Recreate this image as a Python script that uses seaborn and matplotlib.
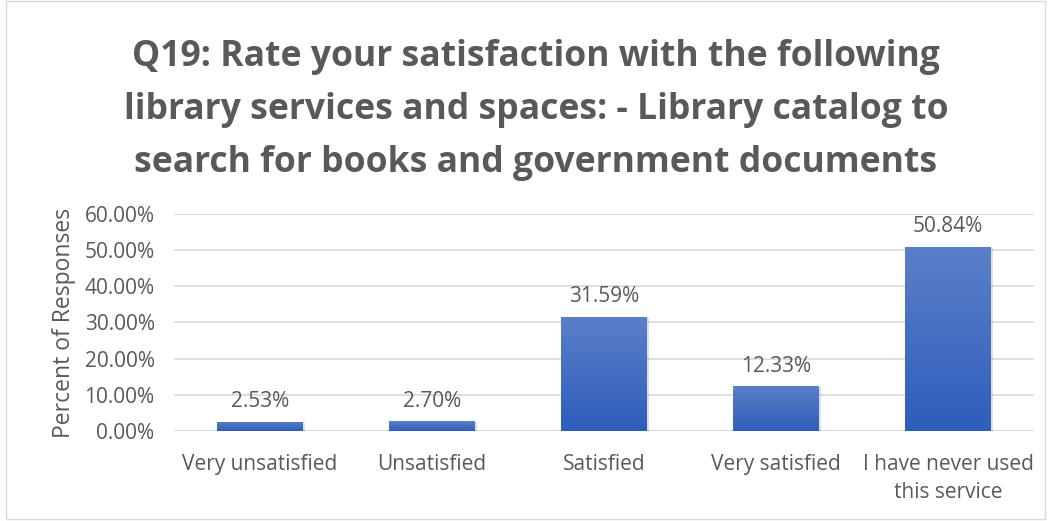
import numpy as np
import pandas as pd
import matplotlib
matplotlib.use("Agg")
import matplotlib.pyplot as plt
from matplotlib.colors import LinearSegmentedColormap
from matplotlib.patches import Rectangle
import seaborn as sns

categories = ["Very unsatisfied", "Unsatisfied", "Satisfied", "Very satisfied",
              "I have never used\nthis service"]
values = [2.53, 2.70, 31.59, 12.33, 50.84]
value_labels = ["2.53%", "2.70%", "31.59%", "12.33%", "50.84%"]
y_ticks = [0, 10, 20, 30, 40, 50, 60]
y_tick_labels = ["0.00%", "10.00%", "20.00%", "30.00%", "40.00%", "50.00%", "60.00%"]
title = ("Q19: Rate your satisfaction with the following\n"
         "library services and spaces: - Library catalog to\n"
         "search for books and government documents")

sns.set_theme(style="white")
plt.rcParams["font.family"] = ["Open Sans", "DejaVu Sans"]

text_color = "#595959"
grid_color = "#d9d9d9"

df = pd.DataFrame({"category": categories, "value": values})

fig = plt.figure(figsize=(10.49, 5.21), dpi=100)
ax = fig.add_axes([0.1659, 0.1727, 0.8198, 0.4166])

sns.barplot(data=df, x="category", y="value", ax=ax, width=0.5,
            color="#4472c4", saturation=1, edgecolor="none")

ax.set_ylim(0, 60)
ax.set_xlim(-0.5, len(categories) - 0.5)
ax.set_yticks(y_ticks)
ax.set_yticklabels(y_tick_labels)
ax.yaxis.grid(True, color=grid_color, linewidth=1.2)
ax.set_axisbelow(True)
for s in ax.spines.values():
    s.set_visible(False)
ax.axhline(0, color=grid_color, linewidth=1.2, zorder=1)

ax.tick_params(axis="both", length=0, labelsize=15, labelcolor=text_color)
ax.tick_params(axis="x", pad=16.5)
ax.tick_params(axis="y", pad=14)
for t in ax.get_xticklabels():
    t.set_linespacing(1.45)
ax.set_xlabel("")
ax.set_ylabel("Percent of Responses", fontsize=16.5, color=text_color, labelpad=6)

# vertical gradient fill on each bar
cmap = LinearSegmentedColormap.from_list("bar", ["#2e5dbb", "#5b80c9"])
grad = np.linspace(0, 1, 256).reshape(-1, 1)
for patch in list(ax.patches):
    x0, y0 = patch.get_x(), patch.get_y()
    w, h = patch.get_width(), patch.get_height()
    # soft shadow behind the bar
    ax.add_patch(Rectangle((x0 + 0.012, y0 - 0.25), w, h, facecolor="#000000",
                           alpha=0.12, edgecolor="none", zorder=1.5))
    im = ax.imshow(grad, extent=[x0, x0 + w, y0, y0 + h], origin="lower",
                   cmap=cmap, aspect="auto", zorder=2)
    im.set_clip_path(patch)
    patch.set_facecolor("none")
ax.set_xlim(-0.5, len(categories) - 0.5)
ax.set_ylim(0, 60)

for i, (v, lab) in enumerate(zip(values, value_labels)):
    ax.annotate(lab, (i, v), xytext=(0, 7), textcoords="offset points",
                ha="center", va="bottom", fontsize=15, color=text_color)

fig.text(0.511, 0.925, title, ha="center", va="top", fontsize=25.6,
         fontweight="bold", color=text_color, linespacing=1.62)

fig.add_artist(Rectangle((0.006, 0.004), 0.99, 0.994, transform=fig.transFigure,
                         fill=False, edgecolor=grid_color, linewidth=1))

fig.savefig("out.png", dpi=100)
